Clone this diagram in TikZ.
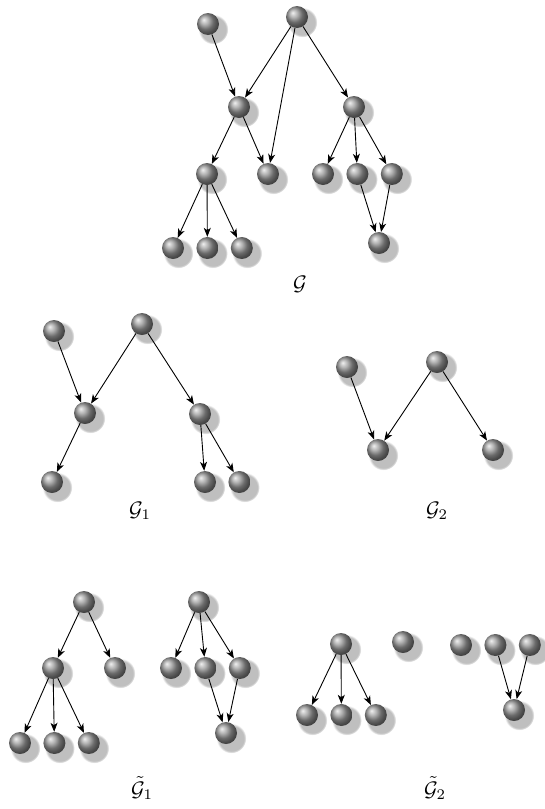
\documentclass[tikz,border=0pt]{standalone}
\usepackage{amsmath, amssymb}
\usepackage{tikz}
\usetikzlibrary{positioning,shadows,arrows.meta}

\begin{document}
\begin{tikzpicture}[x=1pt,y=-1pt,node distance=12pt,inner sep=0pt]
\tikzstyle{main}=[circle, minimum size = 22pt, shading=ball, ball color=gray!80,
  circular drop shadow={shadow xshift=4pt,shadow yshift=-4pt,shadow scale=1.35,opacity=0.5}]
\tikzstyle{connect}=[-{Stealth[length=9pt,width=7pt,inset=2.5pt]}, line width=0.9pt]
\tikzstyle{glabel}=[scale=2.1]
\useasboundingbox (0,0) rectangle (544,809);

% G
\node[main] (a) at (208,24) {};
\node[main] (b) at (297,17) {};
\node[main] (c) at (239,107) {};
\node[main] (d) at (354,107) {};
\node[main] (e) at (207,174) {};
\node[main] (f) at (268,174) {};
\node[main] (g) at (323,174) {};
\node[main] (h) [right=of g] {};
\node[main] (i) [right=of h] {};
\node[main] (j) at (173,248) {};
\node[main] (k) [right=of j] {};
\node[main] (l) [right=of k] {};
\node[main] (m) at (379,243) {};
\node[glabel] (lg) at (300,284) {$\mathcal{G}$};
\path (a) edge[connect] (c);
\path (b) edge[connect] (c) edge[connect] (f) edge[connect] (d);
\path (c) edge[connect] (e) edge[connect] (f);
\path (e) edge[connect] (j) edge[connect] (k) edge[connect] (l);
\path (d) edge[connect] (g) edge[connect] (h) edge[connect] (i);
\path (h) edge[connect] (m);
\path (i) edge[connect] (m);

% G_1
\node[main] (a1) at (54,331) {};
\node[main] (b1) at (142,324) {};
\node[main] (c1) at (85,413) {};
\node[main] (d1) at (200,414) {};
\node[main] (e1) at (52,482) {};
\node[main] (f1) at (205,482) {};
\node[main] (g1) [right=of f1] {};
\node[glabel] (lg1) at (140,511) {$\mathcal{G}_1$};
\path (a1) edge[connect] (c1);
\path (b1) edge[connect] (c1) edge[connect] (d1);
\path (c1) edge[connect] (e1);
\path (d1) edge[connect] (f1) edge[connect] (g1);

% G_2
\node[main] (a2) at (347,367) {};
\node[main] (b2) at (437,362) {};
\node[main] (c2) at (378,450) {};
\node[main] (d2) at (493,450) {};
\node[glabel] (lg2) at (437,511) {$\mathcal{G}_2$};
\path (a2) edge[connect] (c2);
\path (b2) edge[connect] (c2) edge[connect] (d2);

% tilde G_1
\node[main] (r1) at (84,602) {};
\node[main] (s1) at (53,668) {};
\node[main] (t1) at (115,668) {};
\node[main] (u1) at (20,743) {};
\node[main] (v1) [right=of u1] {};
\node[main] (w1) [right=of v1] {};
\node[main] (p1) at (199,602) {};
\node[main] (q1) at (171,668) {};
\node[main] (q2) [right=of q1] {};
\node[main] (q3) [right=of q2] {};
\node[main] (m1) at (226,733) {};
\node[glabel] (lt1) at (142,788) {$\tilde{\mathcal{G}}_1$};
\path (r1) edge[connect] (s1) edge[connect] (t1);
\path (s1) edge[connect] (u1) edge[connect] (v1) edge[connect] (w1);
\path (p1) edge[connect] (q1) edge[connect] (q2) edge[connect] (q3);
\path (q2) edge[connect] (m1);
\path (q3) edge[connect] (m1);

% tilde G_2
\node[main] (n0) at (341,644) {};
\node[main] (n1) at (307,715) {};
\node[main] (n2) [right=of n1] {};
\node[main] (n3) [right=of n2] {};
\node[main] (o1) at (403,642) {};
\node[main] (o2) at (461,645) {};
\node[main] (o3) [right=of o2] {};
\node[main] (o4) [right=of o3] {};
\node[main] (o5) at (514,710) {};
\node[glabel] (lt2) at (435,788) {$\tilde{\mathcal{G}}_2$};
\path (n0) edge[connect] (n1) edge[connect] (n2) edge[connect] (n3);
\path (o3) edge[connect] (o5);
\path (o4) edge[connect] (o5);
\end{tikzpicture}
\end{document}
